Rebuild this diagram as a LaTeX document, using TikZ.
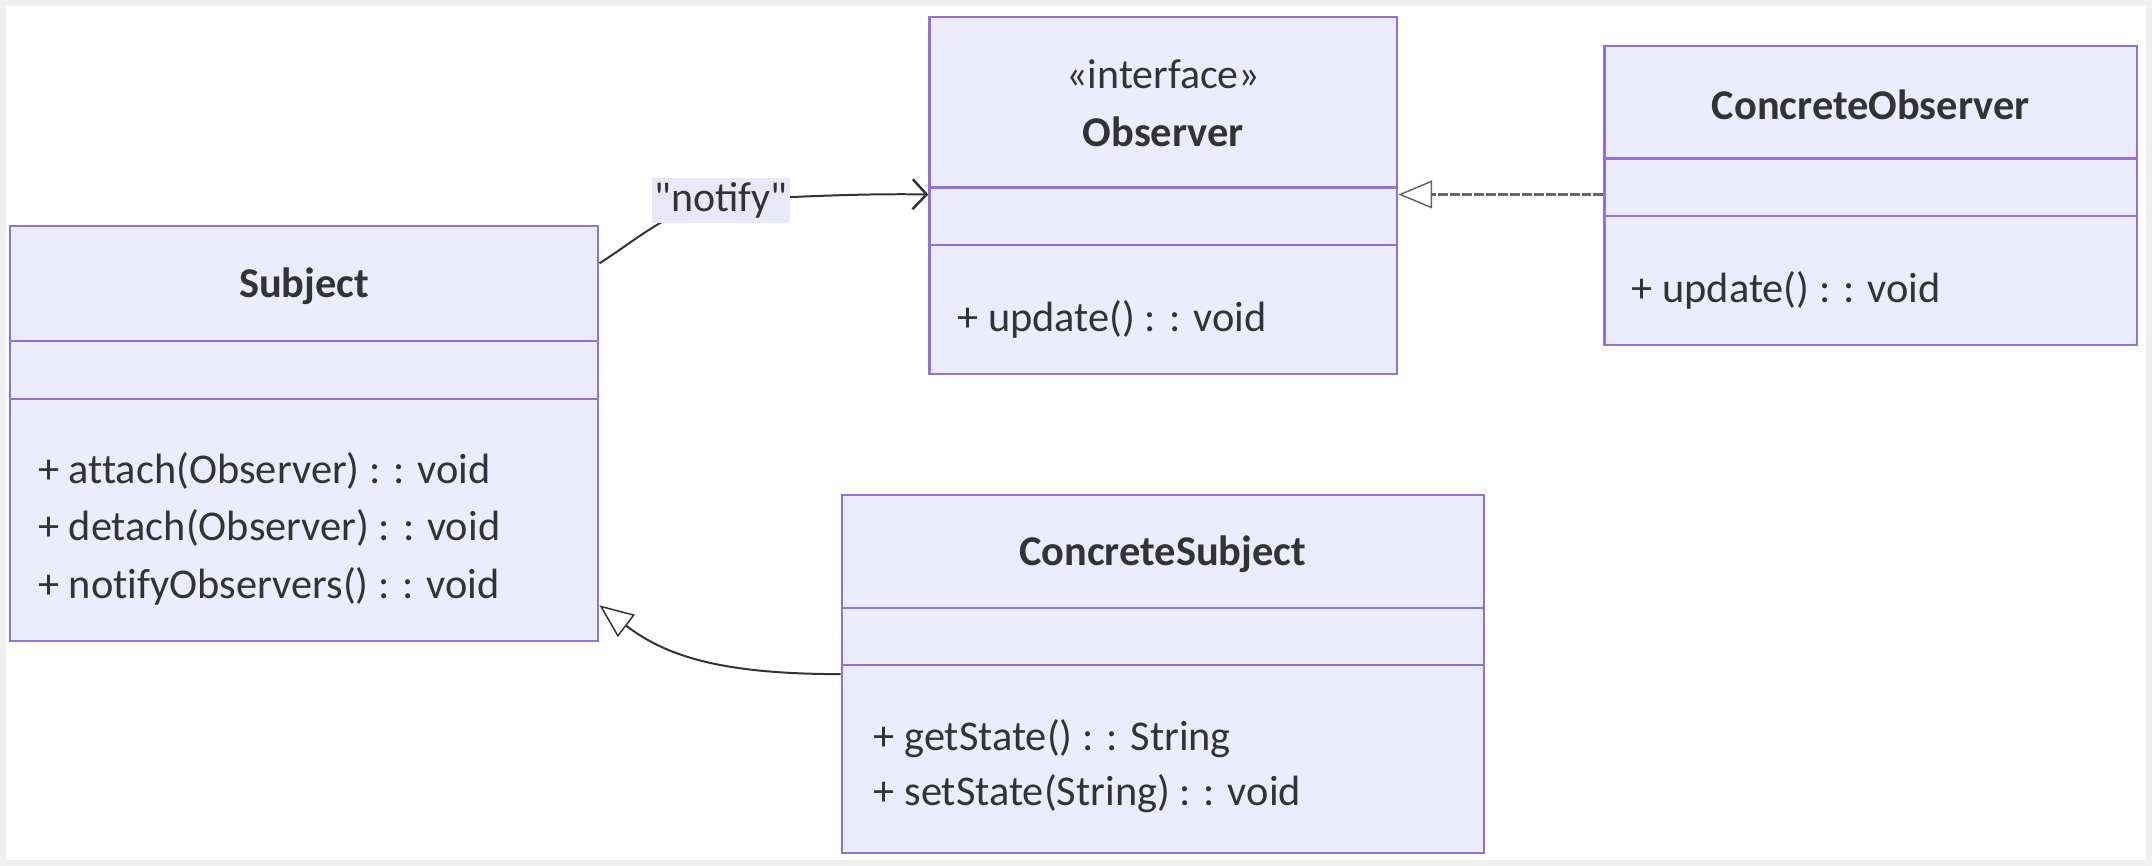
\documentclass[tikz,border=0pt]{standalone}
\usepackage{fontspec}
\setmainfont{Carlito}[Ligatures=NoCommon]
\newfontfamily\plainquote{Carlito}
\usetikzlibrary{arrows.meta}
\definecolor{boxfill}{HTML}{ECECFF}
\definecolor{boxline}{HTML}{9370DB}
\definecolor{ink}{HTML}{333333}
\definecolor{lblbg}{HTML}{E8E8FA}
\definecolor{frame}{HTML}{F0F0F0}
\begin{document}
\begin{tikzpicture}[x=1pt,y=-1pt,
  classbox/.style={draw=boxline, fill=boxfill, line width=2.2pt, rectangle, inner sep=0pt},
  divider/.style={draw=boxline, line width=2.2pt},
  title/.style={font=\fontsize{42.5}{48}\selectfont\bfseries, text=ink, inner sep=0pt},
  stereo/.style={font=\fontsize{42}{48}\selectfont, text=ink, inner sep=0pt},
  member/.style={font=\fontsize{42.5}{48}\selectfont, text=ink, anchor=west, inner sep=0pt},
  edgelabel/.style={fill=lblbg, font=\fontsize{42}{48}\selectfont, text=ink, inner xsep=3pt, inner ysep=5pt},
  assoc/.style={draw=ink, line width=2pt, -{Straight Barb[length=14pt,width=30pt,line width=2.5pt]}},
  inherit/.style={draw=ink, line width=2pt, -{Triangle[length=34pt,width=28pt,fill=white,line width=1.5pt]}},
  realize/.style={draw=ink!75, line width=2.5pt, dash pattern=on 10pt off 2pt, -{Triangle[length=34pt,width=28pt,fill=white,line width=1.5pt]}}
]
\fill[white] (0,0) rectangle (2152,862);
\draw[frame, line width=6pt] (0,0) rectangle (2152,862);
\useasboundingbox (0,0) rectangle (2152,862);

% Subject
\node[classbox, minimum width=590pt, minimum height=416pt] (subj) at (302,432) {};
\draw[divider] (subj.west |- 0,339) -- (subj.east |- 0,339);
\draw[divider] (subj.west |- 0,397) -- (subj.east |- 0,397);
\node[title] (subjT) at (302,284) {Subject};
\node[member] (subjM1) at (35,469) {+ attach(Observer) : : void};
\node[member] (subjM2) at (35,526) {+ detach(Observer) : : void};
\node[member] (subjM3) at (35,585) {+ notifyObservers() : : void};

% Observer
\node[classbox, minimum width=469pt, minimum height=358pt] (obs) at (1163.5,193) {};
\draw[divider] (obs.west |- 0,185) -- (obs.east |- 0,185);
\draw[divider] (obs.west |- 0,243) -- (obs.east |- 0,243);
\node[stereo] (obsS) at (1163.5,71) {«interface»};
\node[title] (obsT) at (1163.5,129) {Observer};
\node[member] (obsM1) at (957,317) {+ update() : : void};

% ConcreteObserver
\node[classbox, minimum width=534pt, minimum height=300pt] (cobs) at (1873,193) {};
\draw[divider] (cobs.west |- 0,156) -- (cobs.east |- 0,156);
\draw[divider] (cobs.west |- 0,214) -- (cobs.east |- 0,214);
\node[title] (cobsT) at (1873,102) {ConcreteObserver};
\node[member] (cobsM1) at (1633,288) {+ update() : : void};

% ConcreteSubject
\node[classbox, minimum width=644pt, minimum height=359pt] (csub) at (1163,672.5) {};
\draw[divider] (csub.west |- 0,607) -- (csub.east |- 0,607);
\draw[divider] (csub.west |- 0,664) -- (csub.east |- 0,664);
\node[title] (csubT) at (1163,553) {ConcreteSubject};
\node[member] (csubM1) at (873,738) {+ getState() : : String};
\node[member] (csubM2) at (873,793) {+ setState(String) : : void};

% Connectors
\coordinate (lblpos) at (720,198);
\draw[assoc] (subj.east |- 0,261) .. controls (635,238) and (670,205) .. (lblpos)
  .. controls (800,194) and (860,191) .. (obs.west |- 0,192);
\node[edgelabel] (lbl) at (lblpos) {\plainquote "notify"};

\draw[realize] (cobs.west |- 0,192) -- (obs.east |- 0,192);

\draw[inherit] (csub.west |- 0,673) .. controls (720,673) and (665,655) .. (subj.east |- 0,604);
\end{tikzpicture}
\end{document}
